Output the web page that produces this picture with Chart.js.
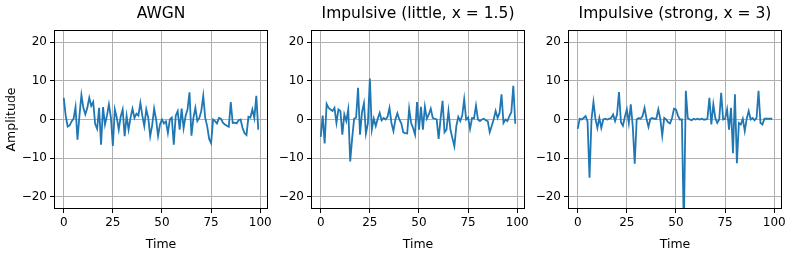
<!DOCTYPE html>
<html>
<head>
<meta charset="utf-8">
<script src="https://cdn.jsdelivr.net/npm/chart.js@4/dist/chart.umd.min.js"></script>
<style>
  body { margin: 0; background: #fff; }
  #wrap { position: relative; width: 792px; height: 255px; }
  #wrap canvas { position: absolute; left: 0; top: 0; }
</style>
</head>
<body>
<div id="wrap">
  <canvas id="c0" width="792" height="255"></canvas>
  <canvas id="c1" width="792" height="255"></canvas>
  <canvas id="c2" width="792" height="255"></canvas>
</div>
<script>
const titles = ['AWGN', 'Impulsive (little, x = 1.5)', 'Impulsive (strong, x = 3)'];
const timeTicks = [0, 25, 50, 75, 100];
const ampTicks = [-20, -10, 0, 10, 20];

// values, one per time step 0..99
const awgn = [
  5.6, 1.0, -1.8, -1.5, -0.5, 0.2, 3.2, -5.2, 1.0, 6.3,
  3.0, 1.3, 3.0, 5.6, 3.5, 4.5, -1.2, -2.4, 3.0, -6.5,
  3.2, -1.3, 1.0, 3.9, 0.5, -6.8, 2.6, 0.5, -2.6, 0.8,
  2.6, -4.3, 0.9, -2.6, 0.5, 2.8, 0.4, 1.5, 1.0, 4.3,
  1.0, -1.7, 2.6, 0.5, -4.3, -1.5, 2.8, 0.0, -4.2, -1.3,
  0.0, -1.0, -0.5, -3.5, 0.0, 0.5, -6.5, 1.0, 2.2, -2.6,
  2.8, -2.2, 0.9, 2.6, 7.0, -4.2, 0.4, 3.0, -0.4, 0.4,
  2.2, 6.1, 0.4, -1.7, -5.0, -6.1, 0.0, -0.4, -1.0, 0.4,
  0.2, -0.8, -1.3, -1.6, -1.9, 4.5, -0.9, -0.8, -1.0, -0.2,
  0.0, -2.2, -3.5, -4.0, 0.7, 0.5, 2.6, 0.4, 6.1, -2.6
];
const impulsiveLittle = [
  -4.5, 1.0, -6.2, 4.0, 3.0, 2.6, 2.2, 3.0, -0.9, 2.6,
  2.2, -3.9, 1.3, -0.4, 2.6, -10.8, -4.8, 0.2, 0.5, 8.2,
  -3.9, 1.9, 4.2, -3.6, -1.0, 10.6, -2.6, 0.2, -1.7, 0.2,
  1.7, -0.2, 0.4, 0.0, 0.7, 3.0, -0.9, -3.0, 0.0, 1.6,
  0.0, -1.0, -3.3, -3.5, -3.6, 2.8, -0.9, -2.2, -3.9, 4.5,
  -2.6, 3.3, -2.6, 3.3, 0.2, 1.3, 2.8, 0.4, 0.2, 0.0,
  -5.0, 0.3, 4.8, -3.3, -2.6, 2.2, -2.6, -4.8, -6.9, -1.7,
  0.7, -0.4, 1.0, 5.2, 0.0, 0.5, -2.4, 0.4, 0.3, 3.6,
  0.0, -0.4, 0.0, 0.2, -0.2, -0.4, -3.3, -1.7, 0.0, 2.2,
  0.4, 1.7, 6.5, -0.9, 0.0, -0.4, 0.9, 1.9, 8.7, -1.1
];
const impulsiveStrong = [
  -2.4, 0.2, 0.0, 0.4, 0.9, -0.5, -15.0, 0.0, 4.5, 0.2,
  -2.2, 0.4, -2.2, 0.0, 0.2, 0.0, 0.2, 0.4, 1.3, -0.4,
  1.3, 7.1, -0.7, -1.6, 0.7, 2.6, -0.9, 3.9, -1.7, -11.4,
  0.0, 0.4, 0.2, 0.9, 3.0, 0.2, -1.9, 0.2, 0.4, 0.2,
  0.2, 2.6, 0.2, -4.2, 0.4, 0.0, -0.7, -1.0, 0.4, 2.8,
  2.6, 1.0, 0.0, 0.0, -28.0, 7.4, 0.4, 0.0, -0.2, 0.2,
  0.0, 0.2, 0.0, 0.2, 0.0, 0.0, 0.2, 5.6, -1.3, 3.9,
  0.4, -0.9, 0.0, 6.9, 0.0, 0.2, 2.6, -2.6, 3.0, -8.7,
  6.5, -11.3, -0.9, -1.3, 0.2, -3.0, 0.2, 2.2, 0.0, 0.4,
  -0.2, 0.4, 7.4, -0.9, -1.3, 0.2, 0.2, 0.2, 0.2, 0.2
];
const series = [awgn, impulsiveLittle, impulsiveStrong];

Chart.defaults.font.family = 'DejaVu Sans';
Chart.defaults.color = '#000';

// panel boxes (plot area) in page pixels
const panelLefts = [54, 311, 568];
const panelWidth = 214;
const panelTop = 30;
const panelBottom = 209;

const minus = v => String(v).replace('-', '\u2212');

const framePlugin = {
  id: 'frame',
  afterDraw(chart) {
    const { ctx, chartArea: a } = chart;
    ctx.save();
    ctx.strokeStyle = '#000';
    ctx.lineWidth = 1;
    ctx.strokeRect(Math.round(a.left) + 0.5, Math.round(a.top) + 0.5,
      Math.round(a.right - a.left) - 1, Math.round(a.bottom - a.top) - 1);
    ctx.restore();
  }
};

function makePanel(i) {
  const yWidth = i === 0 ? 54 : 40;
  const left = panelLefts[i];
  const ctx = document.getElementById('c' + i).getContext('2d');
  return new Chart(ctx, {
    type: 'line',
    data: {
      datasets: [{
        data: series[i].map((v, t) => ({ x: t, y: v })),
        borderColor: '#1f77b4',
        borderWidth: 1.8,
        pointRadius: 0,
        tension: 0,
        fill: false
      }]
    },
    options: {
      responsive: false,
      animation: false,
      devicePixelRatio: 1,
      layout: {
        padding: { left: left - yWidth, right: 792 - (left + panelWidth), top: 0, bottom: 0 }
      },
      plugins: {
        legend: { display: false },
        tooltip: { enabled: false },
        title: {
          display: true,
          fullSize: false,
          text: titles[i],
          font: { size: 15.5, weight: 'normal', lineHeight: 1.2 },
          padding: { top: 5, bottom: panelTop - 5 - 18.6 }
        }
      },
      scales: {
        x: {
          type: 'linear',
          min: -4.95,
          max: 103.95,
          afterBuildTicks: s => { s.ticks = timeTicks.map(v => ({ value: v })); },
          afterFit: s => { s.height = 255 - panelBottom; },
          ticks: { autoSkip: false, maxRotation: 0, padding: 3, font: { size: 12 }, callback: minus },
          grid: { color: '#b0b0b0', lineWidth: 1, tickColor: '#000', tickLength: 4 },
          border: { display: false },
          title: { display: true, text: 'Time', font: { size: 12.5 }, padding: { top: 0, bottom: 3 } }
        },
        y: {
          type: 'linear',
          min: -23.1,
          max: 23.1,
          afterBuildTicks: s => { s.ticks = ampTicks.map(v => ({ value: v })); },
          afterFit: s => { s.width = yWidth; },
          ticks: { autoSkip: false, padding: 3, font: { size: 12 }, callback: minus },
          grid: { color: '#b0b0b0', lineWidth: 1, tickColor: '#000', tickLength: 4 },
          border: { display: false },
          title: { display: i === 0, text: 'Amplitude', font: { size: 12.5 }, padding: { top: 4, bottom: 0 } }
        }
      }
    },
    plugins: [framePlugin]
  });
}

document.addEventListener('DOMContentLoaded', () => {
  [0, 1, 2].forEach(makePanel);
});
</script>
</body>
</html>
